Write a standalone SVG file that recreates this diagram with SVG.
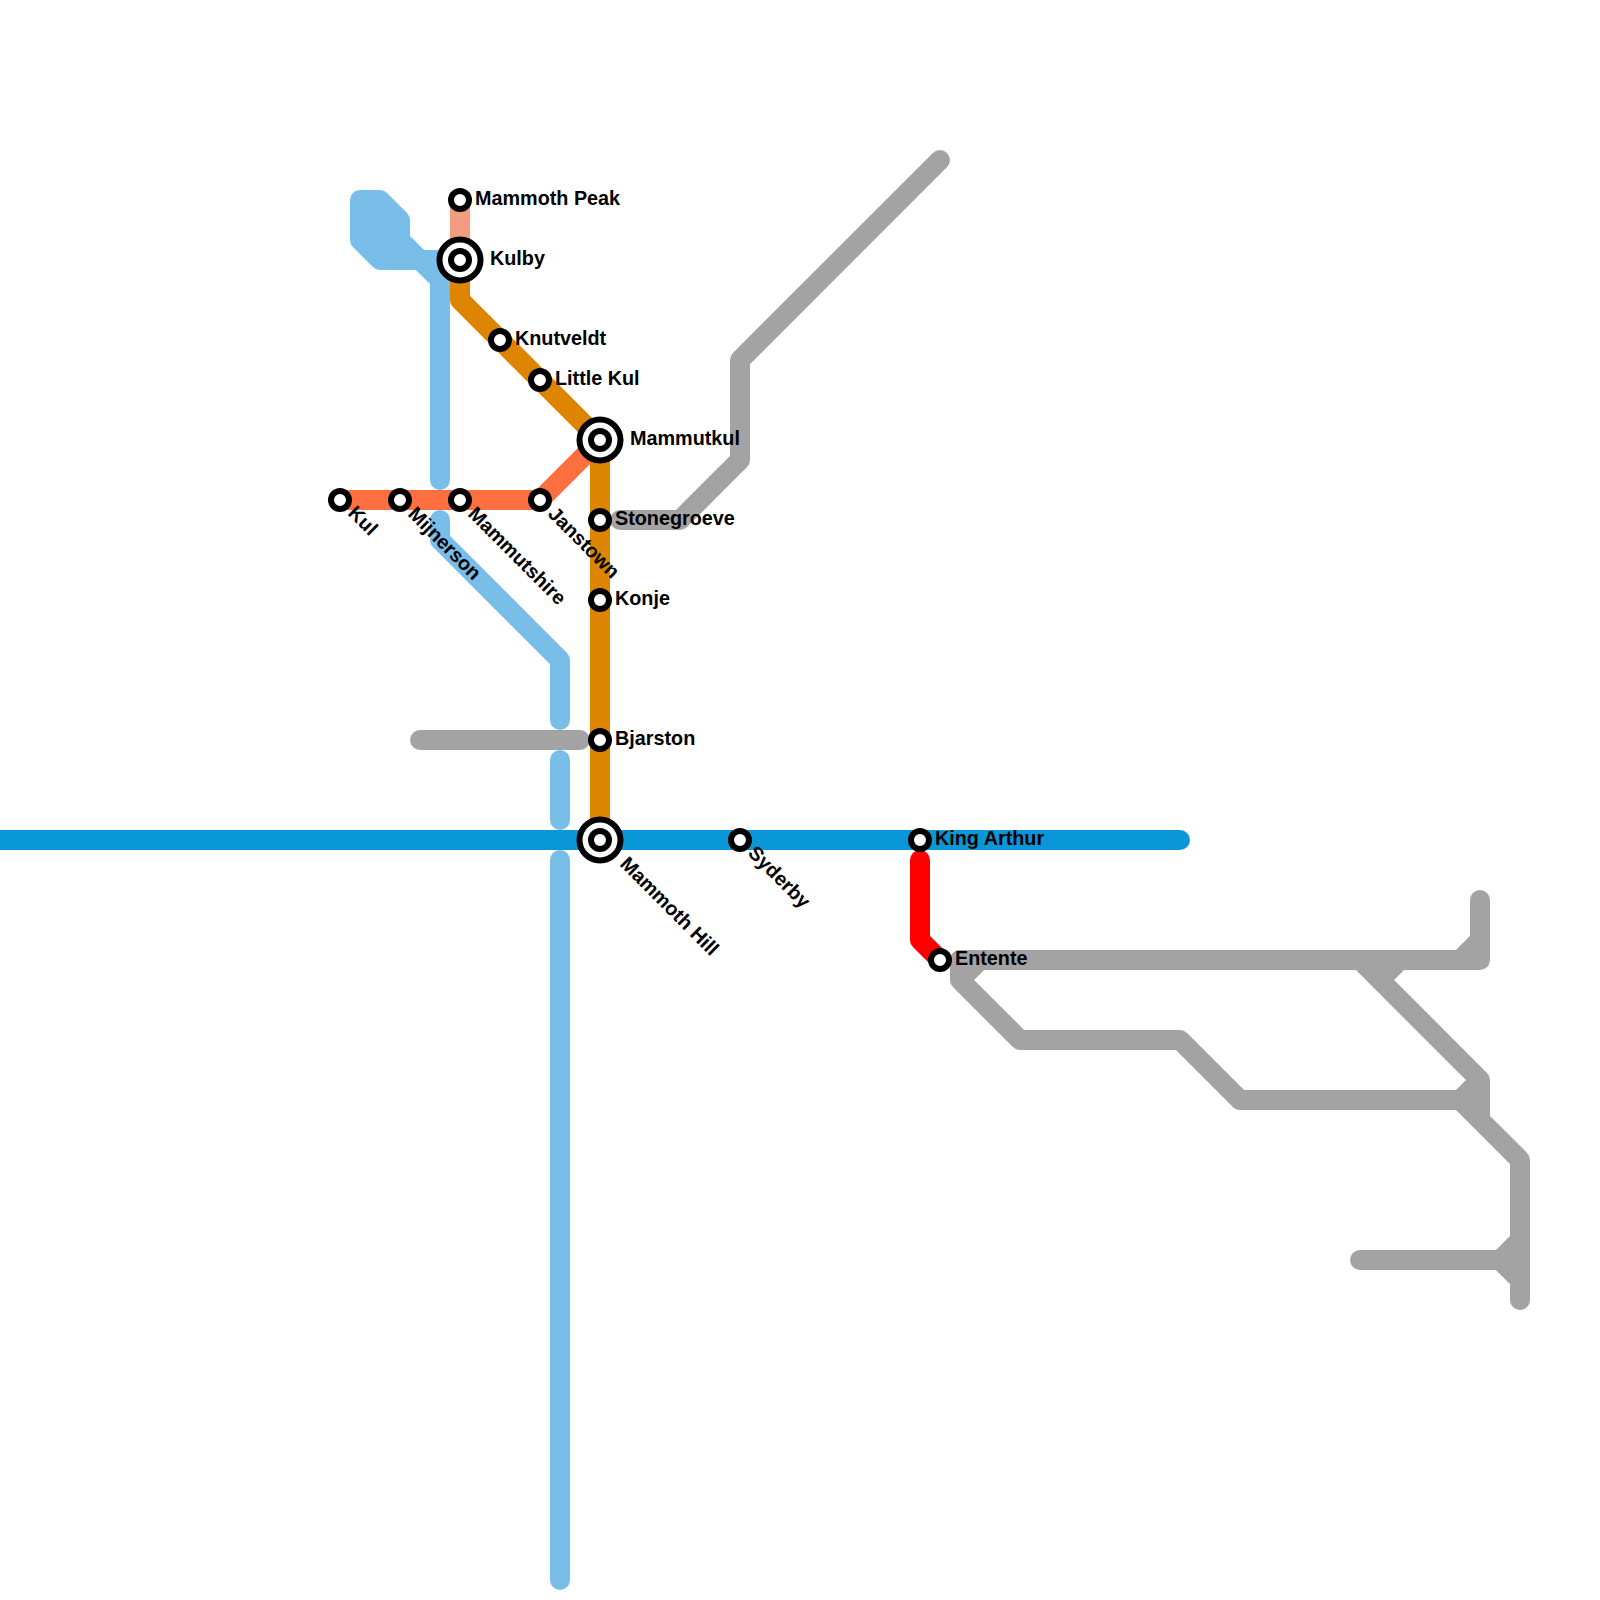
<svg xmlns="http://www.w3.org/2000/svg" width="1600" height="1600" viewBox="0 0 1600 1600">
<style>
.l{fill:none;stroke-width:20;stroke-linecap:round;stroke-linejoin:round}
.g{stroke:#a3a3a3}.b{stroke:#79bde9}.o{stroke:#dd8500}.c{stroke:#ff6f3f}.s{stroke:#f29c82}.d{stroke:#0a97d8}.r{stroke:#ff0000}
.st{fill:#fff;stroke:#000;stroke-width:6}
text{font-family:"Liberation Sans",Arial,sans-serif;font-weight:700;font-size:19.8px;fill:#000}
</style>
<rect width="1600" height="1600" fill="#fff"/>
<g id="connectors">
<path class="l g" d="M940 160L740 360V460L680 520H620"/>
<path class="l g" d="M420 740H580"/>
<path class="l g" d="M960 960H1480V900M1460 960L1480 940M1400 960L1380 980M1360 960L1480 1080V1120M1240 1100H1480M1460 1100L1480 1080M1460 1100L1520 1160V1300M1360 1260H1520M1500 1260L1520 1240M1500 1260L1520 1280"/>
<path class="l g" d="M980 960L960 980M960 960V980L1020 1040H1180L1240 1100"/>
<path class="l b" style="fill:#79bde9" d="M360 200H380L400 220V240L420 260H380L360 240Z"/>
<path class="l b" d="M420 260H440M420 260L440 280V480M440 520V540L560 660V720M560 760V820M560 860V1580"/>
<path class="l s" d="M460 200V260"/>
<path class="l d" d="M-20 840H1180"/>
<path class="l c" d="M340 500H540L600 440"/>
<path class="l o" d="M460 260V300L600 440V840"/>
<path class="l r" d="M920 860V940L940 960"/>
</g>
<g id="mammoth-peak"><circle class="st" cx="460" cy="200" r="9"/><text x="475" y="205">Mammoth Peak</text></g>
<g id="kulby"><circle class="st" cx="460" cy="260" r="20.5"/><circle class="st" cx="460" cy="260" r="9"/><text x="490" y="265">Kulby</text></g>
<g id="knutveldt"><circle class="st" cx="500" cy="340" r="9"/><text x="515" y="345">Knutveldt</text></g>
<g id="little-kul"><circle class="st" cx="540" cy="380" r="9"/><text x="555" y="385">Little Kul</text></g>
<g id="mammutkul"><circle class="st" cx="600" cy="440" r="20.5"/><circle class="st" cx="600" cy="440" r="9"/><text x="630" y="445">Mammutkul</text></g>
<g id="kul"><circle class="st" cx="340" cy="500" r="9"/><text transform="translate(347 514) rotate(45)">Kul</text></g>
<g id="mijnerson"><circle class="st" cx="400" cy="500" r="9"/><text transform="translate(407 515) rotate(45)">Mijnerson</text></g>
<g id="mammutshire"><circle class="st" cx="460" cy="500" r="9"/><text transform="translate(467 515) rotate(45)">Mammutshire</text></g>
<g id="janstown"><circle class="st" cx="540" cy="500" r="9"/><text transform="translate(547 515) rotate(45)">Janstown</text></g>
<g id="stonegroeve"><circle class="st" cx="600" cy="520" r="9"/><text x="615" y="525">Stonegroeve</text></g>
<g id="konje"><circle class="st" cx="600" cy="600" r="9"/><text x="615" y="605">Konje</text></g>
<g id="bjarston"><circle class="st" cx="600" cy="740" r="9"/><text x="615" y="745">Bjarston</text></g>
<g id="mammoth-hill"><circle class="st" cx="600" cy="840" r="20.5"/><circle class="st" cx="600" cy="840" r="9"/><text transform="translate(619 865) rotate(45)">Mammoth Hill</text></g>
<g id="syderby"><circle class="st" cx="740" cy="840" r="9"/><text transform="translate(747 854) rotate(45)">Syderby</text></g>
<g id="king-arthur"><circle class="st" cx="920" cy="840" r="9"/><text x="935" y="845">King Arthur</text></g>
<g id="entente"><circle class="st" cx="940" cy="960" r="9"/><text x="955" y="965">Entente</text></g>
</svg>
